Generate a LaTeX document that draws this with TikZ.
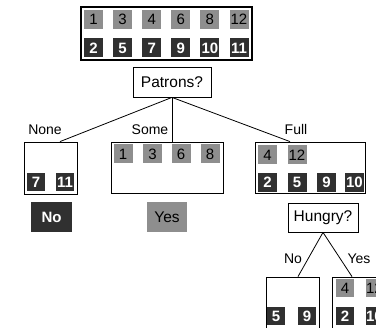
\documentclass[tikz,border=0pt]{standalone}
\usepackage{fontspec}
\setmainfont{Liberation Sans}
\definecolor{lightsq}{HTML}{8E8E8E}
\definecolor{darksq}{HTML}{303030}
\begin{document}
\begin{tikzpicture}[x=1pt,y=-1pt,
  lsq/.style={fill=lightsq,minimum size=19pt,inner sep=0pt,font=\fontsize{15}{15}\selectfont,text=black},
  dsq/.style={fill=darksq,minimum size=19pt,inner sep=0pt,font=\fontsize{15}{15}\selectfont\bfseries,text=white},
  grp/.style={draw,line width=0.8pt,inner sep=0pt},
  test/.style={draw,line width=0.8pt,inner sep=0pt,font=\fontsize{15.5}{15.5}\selectfont},
  lbl/.style={font=\fontsize{14}{14}\selectfont,inner sep=0pt},
  edge/.style={line width=0.8pt}]
\useasboundingbox (0,0) rectangle (376,328);
\clip (0,0) rectangle (376,328);
% top group
\node[grp,line width=1.1pt,minimum width=171pt,minimum height=53pt] (top) at (166.5,33.5) {};
\node[lsq] (t1) at (93.5,19.5) {1};
\node[lsq] (t3) at (122.6,19.5) {3};
\node[lsq] (t4) at (151.7,19.5) {4};
\node[lsq] (t6) at (180.8,19.5) {6};
\node[lsq] (t8) at (209.9,19.5) {8};
\node[lsq] (t12) at (239,19.5) {12};
\node[dsq] (t2) at (93.5,48) {2};
\node[dsq] (t5) at (122.6,48) {5};
\node[dsq] (t7) at (151.7,48) {7};
\node[dsq] (t9) at (180.8,48) {9};
\node[dsq] (t10) at (209.9,48) {10};
\node[dsq] (t11) at (239,48) {11};
% Patrons
\node[test,minimum width=78pt,minimum height=30pt] (patrons) at (172,82) {Patrons?};
% None
\node[grp,minimum width=53pt,minimum height=52pt] (none) at (50.5,168) {};
\node[dsq,minimum size=18pt] (n7) at (36,182) {7};
\node[dsq,minimum size=18pt] (n11) at (65,182) {11};
\node[lbl] (nonelbl) at (45,130) {None};
\node[fill=darksq,text=white,minimum width=41pt,minimum height=30pt,inner sep=0pt,font=\fontsize{15}{15}\selectfont\bfseries] (no) at (51.5,217) {No};
% Some
\node[grp,minimum width=112pt,minimum height=51pt] (some) at (167,167.5) {};
\node[lsq] (s1) at (123,154) {1};
\node[lsq] (s3) at (152.5,154) {3};
\node[lsq] (s6) at (181,154) {6};
\node[lsq] (s8) at (210,154) {8};
\node[lbl] (somelbl) at (150,130) {Some};
\node[fill=lightsq,minimum width=40pt,minimum height=30pt,inner sep=0pt,font=\fontsize{15.5}{15.5}\selectfont] (yes) at (167,217) {Yes};
% Full
\node[grp,minimum width=110pt,minimum height=51pt] (full) at (310,167.5) {};
\node[lsq] (f4) at (267.5,155) {4};
\node[lsq] (f12) at (297,155) {12};
\node[dsq] (f2) at (267.5,182.5) {2};
\node[dsq] (f5) at (297,182.5) {5};
\node[dsq] (f9) at (326.5,182.5) {9};
\node[dsq] (f10) at (354.5,182.5) {10};
\node[lbl] (fulllbl) at (296,130) {Full};
% Hungry
\node[test,minimum width=70pt,minimum height=29pt] (hungry) at (323,217.5) {Hungry?};
% Hungry = No
\node[grp,minimum width=53pt,minimum height=53pt] (hno) at (292.5,303.5) {};
\node[dsq,minimum size=18pt] (h5) at (276,316) {5};
\node[dsq,minimum size=18pt] (h9) at (307,316) {9};
\node[lbl] (hnolbl) at (293,259) {No};
% Hungry = Yes
\node[grp,minimum width=110pt,minimum height=53pt] (hyes) at (387,303.5) {};
\node[lsq,minimum size=18pt] (y4) at (345,288.5) {4};
\node[lsq,minimum size=18pt] (y12) at (374.5,288.5) {12};
\node[dsq,minimum size=18pt] (y2) at (345,316) {2};
\node[dsq,minimum size=18pt] (y10) at (374.5,316) {10};
\node[lbl] (hyeslbl) at (359,259) {Yes};
% edges
\draw[edge] (patrons.south) -- ([xshift=9.5pt]none.north);
\draw[edge] (patrons.south) -- (some.north -| patrons.south);
\draw[edge] (patrons.south) -- ([xshift=-20pt]full.north);
\draw[edge] (hungry.south) -- ([xshift=5.5pt]hno.north);
\draw[edge] (hungry.south) -- ([xshift=-35pt]hyes.north);
\end{tikzpicture}
\end{document}
